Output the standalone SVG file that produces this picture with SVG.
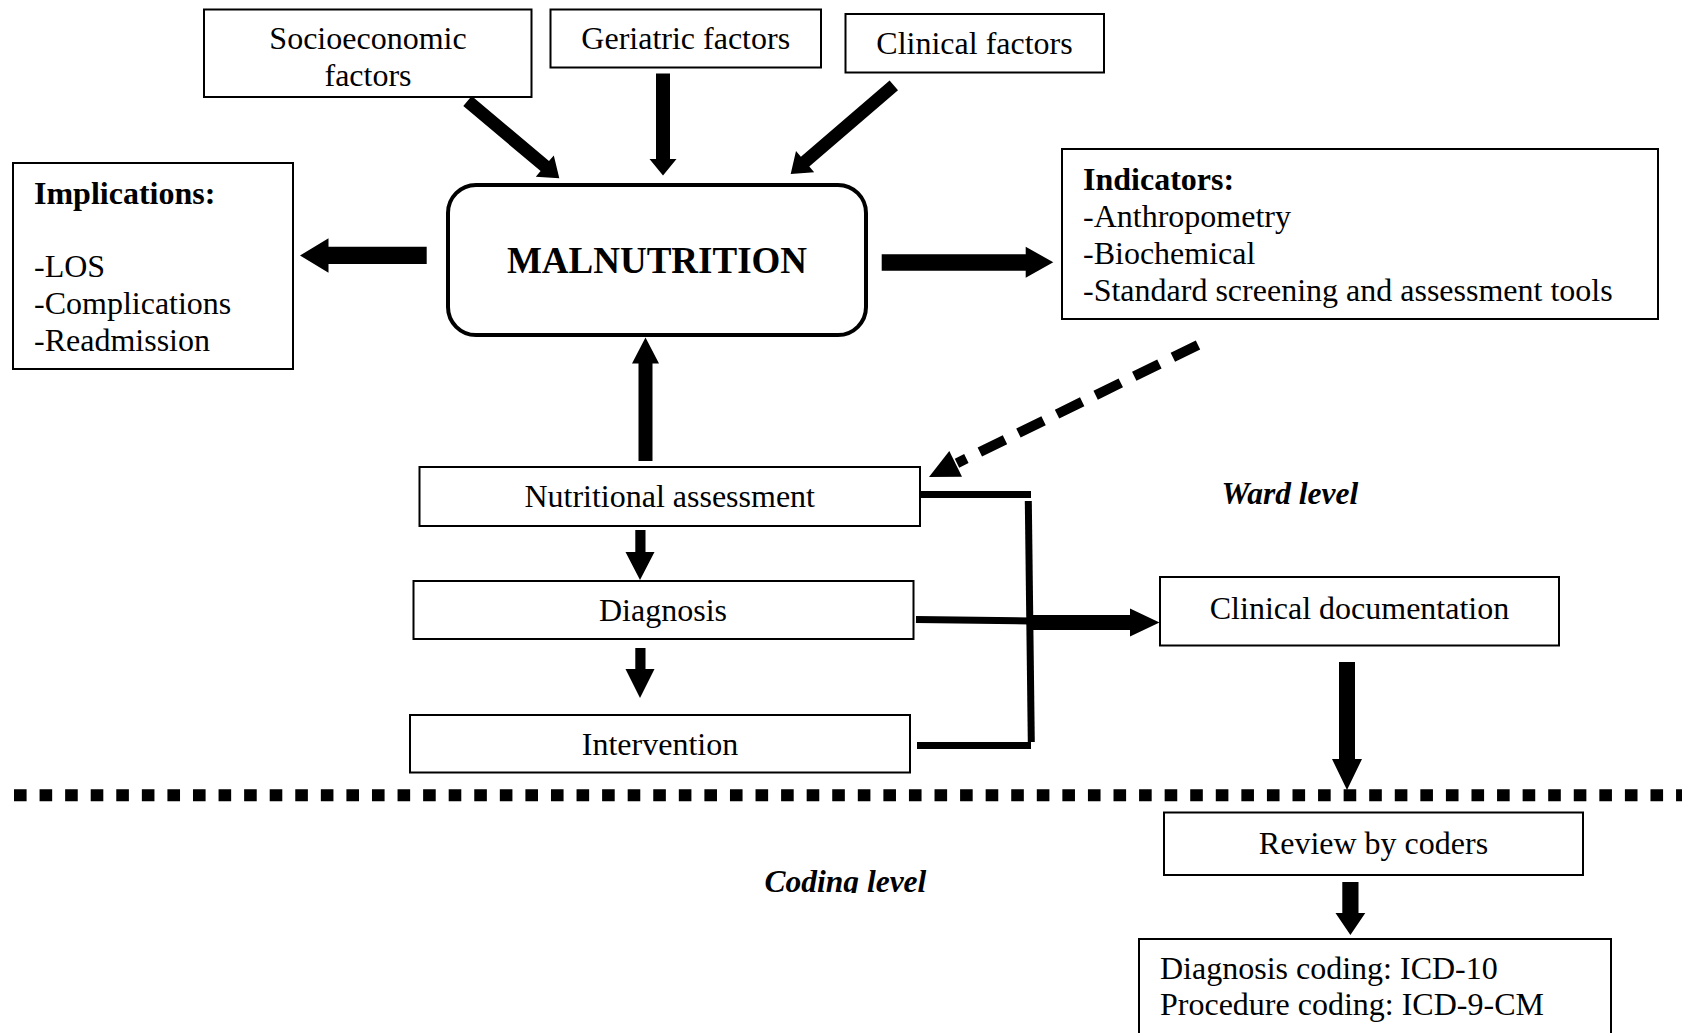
<svg xmlns="http://www.w3.org/2000/svg" width="1682" height="1033" viewBox="0 0 1682 1033">
<style>
  .box { fill: #fff; stroke: #000; stroke-width: 2; }
  .t { font-family: "Liberation Serif", "Times New Roman", serif; font-size: 32px; fill: #000; }
  .c { text-anchor: middle; }
  .b { font-weight: bold; }
  .bi { font-weight: bold; font-style: italic; font-size: 31.5px; }
  .arr { fill: #000; stroke: none; }
  .ln { stroke: #000; stroke-width: 7; fill: none; }
</style>
<defs>
  <clipPath id="codingClip"><rect x="700" y="850" width="300" height="43"/></clipPath>
</defs>
<rect width="1682" height="1033" fill="#fff"/>

<g id="socioeconomic">
  <rect class="box" x="204" y="9.5" width="327.5" height="87.5"/>
  <text class="t c" x="368" y="48.5">Socioeconomic</text>
  <text class="t c" x="368" y="85.5">factors</text>
</g>
<g id="geriatric">
  <rect class="box" x="550.5" y="9.5" width="270.5" height="58"/>
  <text class="t c" x="685.7" y="49">Geriatric factors</text>
</g>
<g id="clinical">
  <rect class="box" x="845.5" y="14" width="258.5" height="58.5"/>
  <text class="t c" x="974.5" y="53.5">Clinical factors</text>
</g>
<g id="implications">
  <rect class="box" x="13" y="163" width="280" height="206"/>
  <text class="t b" x="34" y="204">Implications:</text>
  <text class="t" x="34" y="276.5">-LOS</text>
  <text class="t" x="34" y="313.5">-Complications</text>
  <text class="t" x="34" y="350.5">-Readmission</text>
</g>
<g id="malnutrition">
  <rect x="448" y="185" width="418" height="150" rx="28" ry="28" fill="#fff" stroke="#000" stroke-width="4"/>
  <text class="t c b" x="657" y="273" style="font-size:37px">MALNUTRITION</text>
</g>
<g id="indicators">
  <rect class="box" x="1062" y="149" width="596" height="170"/>
  <text class="t b" x="1083" y="189.5">Indicators:</text>
  <text class="t" x="1083" y="226.5">-Anthropometry</text>
  <text class="t" x="1083" y="263.5">-Biochemical</text>
  <text class="t" x="1083" y="300.5">-Standard screening and assessment tools</text>
</g>
<g id="nutritional-assessment">
  <rect class="box" x="419.5" y="467" width="500.5" height="59"/>
  <text class="t c" x="669.7" y="507">Nutritional assessment</text>
</g>
<g id="diagnosis">
  <rect class="box" x="413.5" y="581" width="500" height="58"/>
  <text class="t c" x="663" y="620.5">Diagnosis</text>
</g>
<g id="intervention">
  <rect class="box" x="410" y="715" width="500" height="57.5"/>
  <text class="t c" x="660" y="755">Intervention</text>
</g>
<g id="clinical-documentation">
  <rect class="box" x="1160" y="577" width="399" height="68.5"/>
  <text class="t c" x="1359.5" y="619">Clinical documentation</text>
</g>
<g id="review-by-coders">
  <rect class="box" x="1164" y="812.5" width="419" height="62.5"/>
  <text class="t c" x="1373.5" y="853.5">Review by coders</text>
</g>
<g id="coding">
  <rect class="box" x="1139" y="939" width="472" height="120"/>
  <text class="t" x="1160" y="978.5">Diagnosis coding: ICD-10</text>
  <text class="t" x="1160" y="1015">Procedure coding: ICD-9-CM</text>
</g>
<g id="labels">
  <text class="t bi" x="1221.5" y="504">Ward level</text>
  <text class="t bi" x="764.5" y="891.7" clip-path="url(#codingClip)">Coding level</text>
</g>

<g id="connectors">
  <line x1="14" y1="795.3" x2="1682" y2="795.3" stroke="#000" stroke-width="12" stroke-dasharray="12.6 12.97"/>
  <polygon class="arr" points="471.7,96.0 549.0,161.1 553.8,155.4 559.3,178.3 535.8,176.8 540.6,171.1 463.3,106.0"/>
  <polygon class="arr" points="656,73.5 670,73.5 670,159 676.5,159 663,175.5 649.5,159 656,159"/>
  <polygon class="arr" points="889.6,80.4 898.0,90.2 809.3,166.5 814.2,172.2 790.7,174 796.0,151.0 800.9,156.7"/>
  <polygon class="arr" points="426.7,246.7 328.5,246.7 328.5,238.3 300,255.5 328.5,272.7 328.5,264 426.7,264"/>
  <polygon class="arr" points="881.7,254.3 1025.7,254.3 1025.7,246.7 1053.3,262.3 1025.7,277.7 1025.7,270.7 881.7,270.7"/>
  <line x1="1198" y1="345" x2="957" y2="463.2" stroke="#000" stroke-width="10" stroke-dasharray="28 15"/>
  <polygon class="arr" points="929,477 949.3,451.0 962.0,476.8"/>
  <polygon class="arr" points="638.5,461 638.5,363.5 632,363.5 645.5,337.5 659,363.5 652.5,363.5 652.5,461"/>
  <polygon class="arr" points="635.3,530 645.5,530 645.5,552 654.5,552 640,580 625.5,552 635.3,552"/>
  <polygon class="arr" points="635.3,648 645.5,648 645.5,669 654.5,669 640,698 625.5,669 635.3,669"/>
  <line class="ln" x1="919" y1="494.5" x2="1031" y2="494.5"/>
  <line class="ln" x1="1028.3" y1="501" x2="1031.3" y2="742"/>
  <line class="ln" x1="916" y1="619.5" x2="1030" y2="621"/>
  <line class="ln" x1="917" y1="745.5" x2="1031" y2="745.5"/>
  <polygon class="arr" points="1030,615 1130,615 1130,608.5 1159.5,622.5 1130,636.5 1130,630 1030,630"/>
  <polygon class="arr" points="1339,662 1355,662 1355,759 1362,759 1347,790 1332,759 1339,759"/>
  <polygon class="arr" points="1342.3,882 1358.5,882 1358.5,913 1365.3,913 1350.4,935 1335.5,913 1342.3,913"/>
</g>
</svg>
